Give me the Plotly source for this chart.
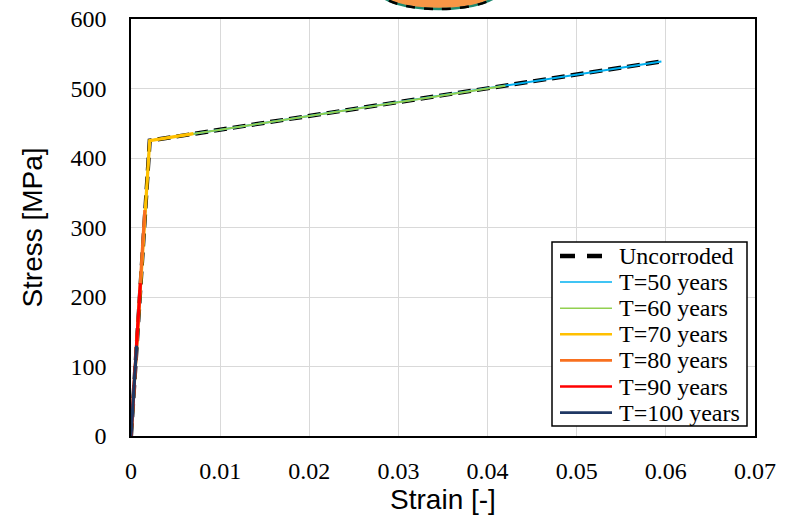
import plotly.graph_objects as go

# Data
unc_strain = [0, 0.0021, 0.0595]
unc_stress = [0, 425, 539]

t50_strain = [0, 0.0021, 0.0595]
t50_stress = [0, 425, 539]
t60_strain = [0, 0.0021, 0.042]
t60_stress = [0, 425, 504]
t70_strain = [0, 0.0021, 0.0070]
t70_stress = [0, 425, 435]
t80_strain = [0, 0.00155]
t80_stress = [0, 325]
t90_strain = [0, 0.00105]
t90_stress = [0, 220]
t100_strain = [0, 0.00063]
t100_stress = [0, 130]

x_ticks = [0, 0.01, 0.02, 0.03, 0.04, 0.05, 0.06, 0.07]
x_tick_labels = ["0", "0.01", "0.02", "0.03", "0.04", "0.05", "0.06", "0.07"]
y_ticks = [0, 100, 200, 300, 400, 500, 600]

legend_names = ["Uncorroded", "T=50 years", "T=60 years", "T=70 years",
                "T=80 years", "T=90 years", "T=100 years"]

series = [
    ("T=50 years", t50_strain, t50_stress, "#00B0F0", 2.0, 1.5),
    ("T=60 years", t60_strain, t60_stress, "#92D050", 2.0, 1.5),
    ("T=70 years", t70_strain, t70_stress, "#FFC000", 3.2, 2.6),
    ("T=80 years", t80_strain, t80_stress, "#F8701F", 3.2, 2.6),
    ("T=90 years", t90_strain, t90_stress, "#FF0000", 3.2, 2.6),
    ("T=100 years", t100_strain, t100_stress, "#203864", 3.2, 2.6),
]

serif = "Liberation Serif, Times New Roman, serif"
sans = "Liberation Sans, Arial, sans-serif"

fig = go.Figure()
fig.add_trace(go.Scatter(x=unc_strain, y=unc_stress, mode="lines", name="Uncorroded",
                         line=dict(color="black", width=4.2, dash="13px,6px")))
for name, xs, ys, col, w, _ in series:
    fig.add_trace(go.Scatter(x=xs, y=ys, mode="lines", name=name,
                             line=dict(color=col, width=w)))

# plot-area pixel geometry (for legend placement in paper units)
L, R, T, B = 131, 755, 19, 436
def px_x(p):
    return (p - L) / (R - L)
def px_y(p):
    return (B - p) / (B - T)

shapes = [
    dict(type="circle", xref="paper", yref="paper",
         x0=px_x(379), x1=px_x(499), y0=px_y(9), y1=px_y(-28),
         fillcolor="#F79646", line=dict(color="#1F8A70", width=2.5), layer="above"),
    dict(type="circle", xref="paper", yref="paper",
         x0=px_x(379), x1=px_x(499), y0=px_y(9), y1=px_y(-28),
         fillcolor="rgba(0,0,0,0)", line=dict(color="black", width=2.5, dash="dash"),
         layer="above"),
    # legend box
    dict(type="rect", xref="paper", yref="paper",
         x0=px_x(552), x1=px_x(747), y0=px_y(426), y1=px_y(242),
         fillcolor="white", line=dict(color="black", width=1.5), layer="above"),
]
annotations = []
legend_styles = [("black", 4.5, "15px,12px")] + [(s[3], s[5], "solid") for s in series]
for i, (name, (col, w, dash)) in enumerate(zip(legend_names, legend_styles)):
    yrow = 256 + 26.1 * i
    shapes.append(dict(type="line", xref="paper", yref="paper",
                       x0=px_x(560), x1=px_x(612), y0=px_y(yrow), y1=px_y(yrow),
                       line=dict(color=col, width=w, dash=dash), layer="above"))
    annotations.append(dict(text=name, xref="paper", yref="paper",
                            x=px_x(617), y=px_y(yrow), xanchor="left", yanchor="middle",
                            showarrow=False,
                            font=dict(family=serif, size=24, color="black")))

fig.update_layout(
    width=797, height=515,
    margin=dict(l=L, r=797 - R, t=T, b=515 - B, autoexpand=False),
    paper_bgcolor="white", plot_bgcolor="white",
    showlegend=False,
    xaxis=dict(range=[0, 0.07], tickvals=x_ticks, ticktext=x_tick_labels,
               showgrid=True, gridcolor="#d9d9d9", gridwidth=1,
               showline=True, linecolor="black", linewidth=1.5, mirror=True,
               zeroline=False, ticks="", ticklabelstandoff=12, automargin=False,
               tickfont=dict(family=serif, size=24, color="black"),
               title=dict(text="Strain [-]", font=dict(family=sans, size=28, color="black"),
                          standoff=4)),
    yaxis=dict(range=[0, 600], tickvals=y_ticks,
               showgrid=True, gridcolor="#d9d9d9", gridwidth=1,
               showline=True, linecolor="black", linewidth=1.5, mirror=True,
               zeroline=False, ticks="", ticklabelstandoff=18, automargin=False,
               tickfont=dict(family=serif, size=24, color="black"),
               title=dict(text="Stress [MPa]", font=dict(family=sans, size=28, color="black"),
                          standoff=20)),
    shapes=shapes,
    annotations=annotations,
)

fig.write_html("out.html", config={"displayModeBar": False},
               post_script="document.body.style.margin='0';")
